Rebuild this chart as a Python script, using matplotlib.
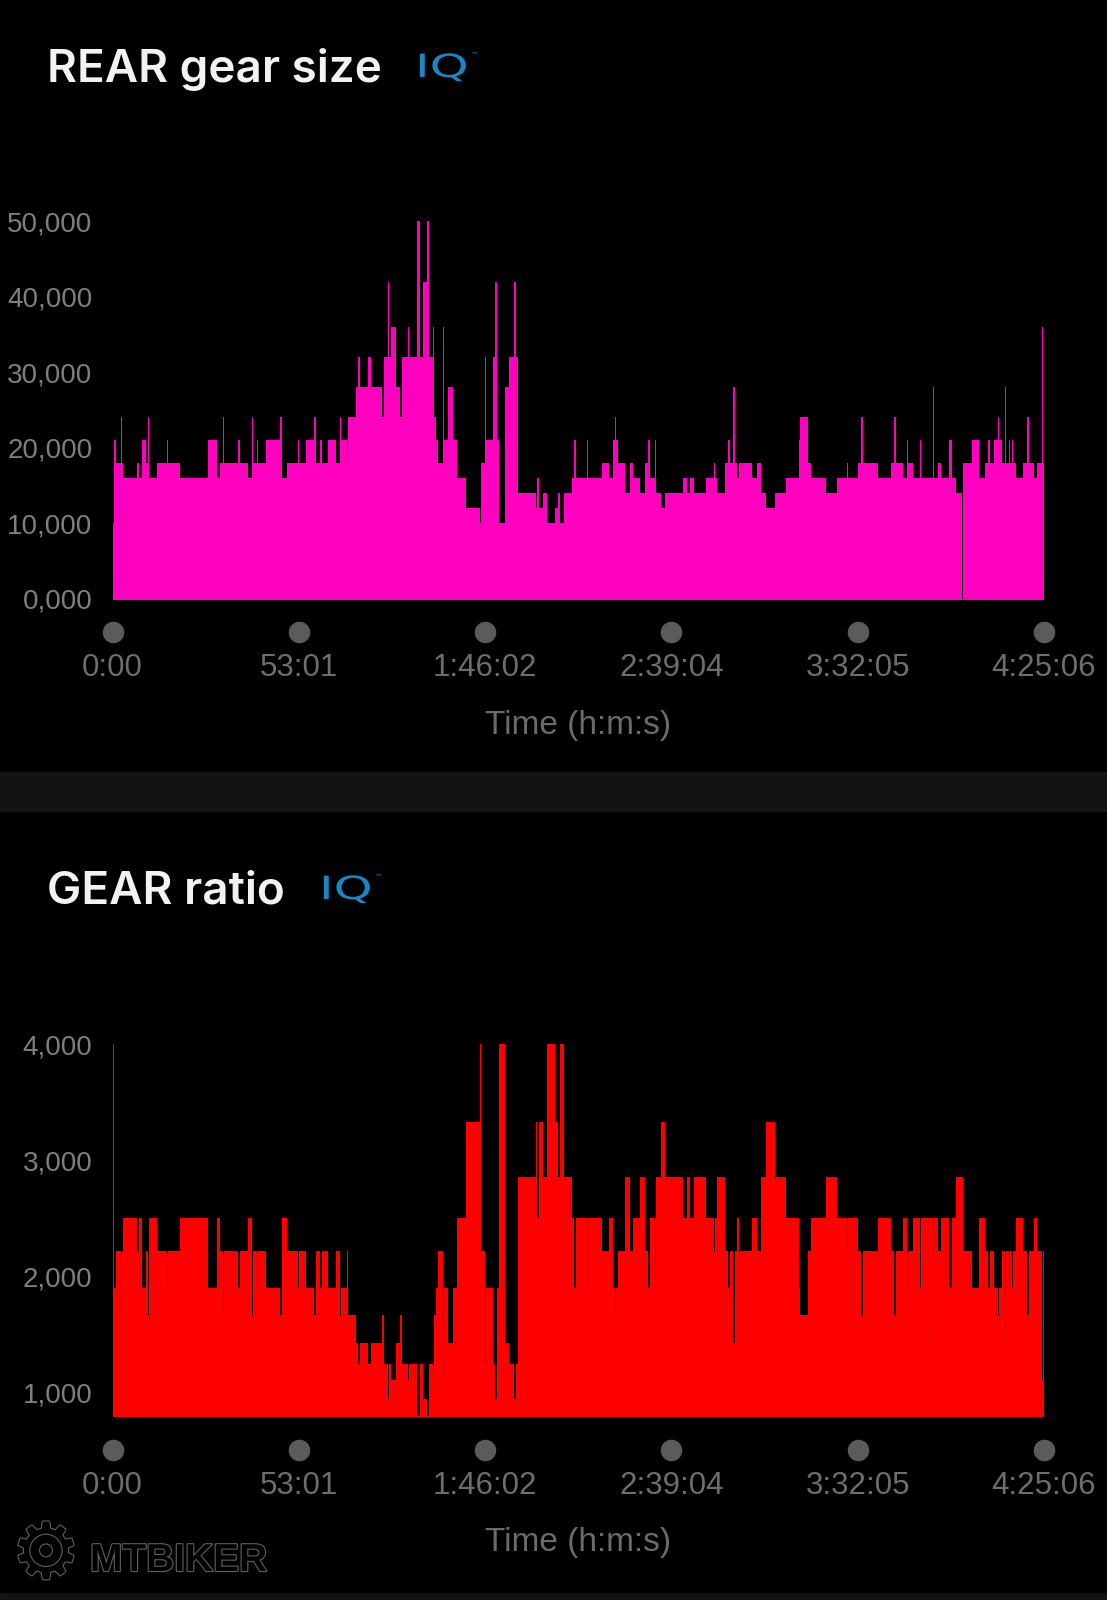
import matplotlib
matplotlib.use("Agg")
import matplotlib.pyplot as plt
import matplotlib.patheffects as pe
from matplotlib.patches import Rectangle, PathPatch
from matplotlib.textpath import TextPath
from matplotlib.font_manager import FontProperties
from matplotlib.transforms import blended_transform_factory, Affine2D, IdentityTransform

plt.rcParams['font.family'] = ['Liberation Sans', 'DejaVu Sans']

# gear changes, minutes from the start of the ride
change_min = [
    0.0, 0.4, 1.0, 2.4, 2.8, 3.0, 7.0, 7.4, 8.4, 9.4,
    10.1, 10.5, 12.7, 15.4, 15.8, 19.3, 27.2, 29.7, 30.7, 31.4,
    31.8, 35.8, 36.2, 38.6, 39.6, 40.0, 41.1, 41.5, 43.7, 47.7,
    48.1, 49.8, 52.8, 53.2, 55.1, 57.4, 57.8, 59.1, 59.5, 61.2,
    63.5, 64.7, 65.1, 66.6, 67.1, 69.4, 69.9, 70.3, 72.6, 73.6,
    76.7, 77.4, 78.4, 78.8, 79.3, 80.8, 81.8, 82.5, 84.1, 84.5,
    86.7, 87.4, 88.4, 89.6, 90.0, 91.1, 91.5, 92.0, 92.5, 94.0,
    94.4, 95.5, 97.0, 98.1, 100.6, 104.6, 105.0, 105.9, 106.3, 108.2,
    108.9, 109.3, 110.0, 111.8, 112.8, 114.3, 114.7, 115.4, 120.4, 120.9,
    121.3, 122.5, 123.7, 125.8, 126.8, 127.3, 128.4, 130.9, 131.4, 131.8,
    135.0, 135.4, 139.2, 141.2, 142.3, 143.0, 143.4, 143.8, 145.9, 147.4,
    148.2, 150.0, 151.5, 152.5, 152.9, 154.4, 154.8, 156.2, 157.2, 162.3,
    163.4, 164.4, 165.6, 169.0, 171.1, 171.6, 172.1, 174.2, 175.2, 175.6,
    176.7, 177.1, 177.8, 178.3, 181.9, 183.4, 184.7, 186.0, 188.6, 191.7,
    195.3, 195.8, 197.8, 198.7, 203.0, 206.1, 209.0, 209.4, 212.3, 213.1,
    213.5, 217.9, 221.5, 222.5, 222.9, 225.1, 226.1, 226.5, 227.7, 229.8,
    230.2, 233.4, 233.8, 234.9, 235.9, 238.0, 239.0, 240.0, 241.8, 242.0,
    244.7, 246.7, 248.3, 249.3, 249.7, 250.9, 251.9, 252.3, 253.2, 253.9,
    254.3, 255.0, 255.4, 256.0, 256.4, 257.0, 259.1, 260.4, 260.8, 262.2,
    263.2, 264.4, 264.7, 265.0,
]
rear_teeth = [
    10, 21, 18, 24, 18, 16, 18, 16, 21, 18,
    24, 16, 18, 21, 18, 16, 21, 16, 18, 24,
    18, 21, 18, 16, 24, 18, 21, 18, 21, 24,
    16, 18, 21, 18, 21, 24, 18, 21, 18, 21,
    18, 24, 21, 18, 24, 28, 32, 28, 32, 28,
    24, 32, 42, 32, 36, 28, 24, 32, 36, 32,
    50, 32, 42, 50, 32, 36, 24, 21, 18, 36,
    21, 28, 21, 16, 12, 10, 18, 32, 21, 32,
    42, 21, 10, 28, 32, 42, 32, 14, 12, 16,
    12, 14, 10, 12, 14, 10, 14, 16, 21, 16,
    21, 16, 18, 16, 21, 24, 21, 18, 14, 18,
    16, 14, 18, 21, 16, 21, 14, 12, 14, 16,
    14, 16, 14, 16, 18, 16, 14, 18, 21, 18,
    28, 18, 16, 18, 16, 18, 14, 12, 14, 16,
    21, 24, 18, 16, 14, 16, 18, 16, 18, 24,
    18, 16, 18, 24, 18, 16, 21, 18, 16, 21,
    16, 28, 16, 18, 16, 21, 16, 14, 0, 18,
    21, 16, 18, 21, 18, 21, 24, 21, 18, 28,
    18, 21, 18, 21, 18, 16, 18, 24, 18, 16,
    18, 36, 18, 10,
]
gear_ratio = [
    4.0, 1.9, 2.22, 1.67, 2.22, 2.5, 2.22, 2.5, 1.9, 2.22,
    1.67, 2.5, 2.22, 1.9, 2.22, 2.5, 1.9, 2.5, 2.22, 1.67,
    2.22, 1.9, 2.22, 2.5, 1.67, 2.22, 1.9, 2.22, 1.9, 1.67,
    2.5, 2.22, 1.9, 2.22, 1.9, 1.67, 2.22, 1.9, 2.22, 1.9,
    2.22, 1.67, 1.9, 2.22, 1.67, 1.43, 1.25, 1.43, 1.25, 1.43,
    1.67, 1.25, 0.95, 1.25, 1.11, 1.43, 1.67, 1.25, 1.11, 1.25,
    0.8, 1.25, 0.95, 0.8, 1.25, 1.11, 1.67, 1.9, 2.22, 1.11,
    1.9, 1.43, 1.9, 2.5, 3.33, 4.0, 2.22, 1.25, 1.9, 1.25,
    0.95, 1.9, 4.0, 1.43, 1.25, 0.95, 1.25, 2.86, 3.33, 2.5,
    3.33, 2.86, 4.0, 3.33, 2.86, 4.0, 2.86, 2.5, 1.9, 2.5,
    1.9, 2.5, 2.22, 2.5, 1.9, 1.67, 1.9, 2.22, 2.86, 2.22,
    2.5, 2.86, 2.22, 1.9, 2.5, 1.9, 2.86, 3.33, 2.86, 2.5,
    2.86, 2.5, 2.86, 2.5, 2.22, 2.5, 2.86, 2.22, 1.9, 2.22,
    1.43, 2.22, 2.5, 2.22, 2.5, 2.22, 2.86, 3.33, 2.86, 2.5,
    1.9, 1.67, 2.22, 2.5, 2.86, 2.5, 2.22, 2.5, 2.22, 1.67,
    2.22, 2.5, 2.22, 1.67, 2.22, 2.5, 1.9, 2.22, 2.5, 1.9,
    2.5, 1.43, 2.5, 2.22, 2.5, 1.9, 2.5, 2.86, 2.86, 2.22,
    1.9, 2.5, 2.22, 1.9, 2.22, 1.9, 1.67, 1.9, 2.22, 1.43,
    2.22, 1.9, 2.22, 1.9, 2.22, 2.5, 2.22, 1.67, 2.22, 2.5,
    2.22, 1.11, 2.22, 4.0,
]
ride_end_min = 265.1

time_labels = ["0:00", "53:01", "1:46:02", "2:39:04", "3:32:05", "4:25:06"]
rear_ticks = [0, 10, 20, 30, 40, 50]
ratio_ticks = [1, 2, 3, 4]


def to_sec(label):
    s = 0
    for p in label.split(":"):
        s = s * 60 + int(p)
    return s


W, H = 1107, 1600
fig = plt.figure(figsize=(W / 100, H / 100), dpi=100, facecolor="black")


def px_axes(left, top, right, bottom):
    return fig.add_axes([left / W, 1 - bottom / H, (right - left) / W, (bottom - top) / H])


def comma(v):
    return f"{v:.3f}".replace(".", ",")


tick_sec = [to_sec(l) for l in time_labels]
x = [t * 60 for t in change_min] + [ride_end_min * 60]


def draw_panel(ax, values, ymin, ymax, yticks, color, top_px, bot_px):
    ax.set_facecolor("black")
    y = values + [values[-1]]
    ax.fill_between(x, y, ymin - 10, step="post", color=color, linewidth=0)
    ax.set_xlim(0, tick_sec[-1])
    ax.set_ylim(ymin, ymax)
    for s in ax.spines.values():
        s.set_visible(False)
    ax.set_xticks([])
    ax.set_yticks(yticks)
    ax.set_yticklabels([comma(v) for v in yticks], fontsize=20, color="#7f7f7f")
    ax.tick_params(axis="y", length=0, pad=14.5)
    h = bot_px - top_px
    tr = blended_transform_factory(ax.transData, ax.transAxes)
    ax.plot(tick_sec, [-(33.5 / h)] * len(tick_sec), "o", ms=14.5, color="#5b5b5b",
            transform=tr, clip_on=False)
    for s, lbl in zip(tick_sec, time_labels):
        ax.text(s, -(70.0 / h), lbl, transform=tr, ha="center", va="center",
                fontsize=22.5, color="#6e6e6e")
    ax.text(0.5, -(127.0 / h), "Time (h:m:s)", transform=ax.transAxes,
            ha="center", va="center", fontsize=24, color="#6b6b6b")


ax1 = px_axes(112.5, 221.4, 1044, 598.5)
draw_panel(ax1, rear_teeth, 0, 50, rear_ticks, "#ff00bf", 221.4, 598.5)

ax2 = px_axes(112.5, 1044, 1044, 1416)
draw_panel(ax2, gear_ratio, 0.8, 4.0, ratio_ticks, "#ff0000", 1044, 1416)

# titles with the IQ badge
iq_font = FontProperties(family="DejaVu Sans")
iq_path = TextPath((0, 0), "IQ", size=32, prop=iq_font)
for title, base, iq_x in [("REAR gear size", 82, 415), ("GEAR ratio", 904, 319)]:
    fig.text(47 / W, 1 - base / H, title, fontsize=33, fontweight="semibold",
             family=["Inter", "DejaVu Sans"], color="#f2f2f2", va="baseline")
    iq_base = base - 5
    badge = Affine2D().scale(1.55, 1.0).translate(iq_x, H - iq_base).transform_path(iq_path)
    fig.add_artist(PathPatch(badge, transform=IdentityTransform(), facecolor="#1b87c2",
                             edgecolor="none"))
    fig.text((iq_x + 56) / W, 1 - (iq_base - 21) / H, "\u2122", fontsize=5,
             family=["DejaVu Sans"], color="#1b87c2", va="baseline")

# separator band and bottom strip
fig.patches.append(Rectangle((0, 1 - 811 / H), 1, 39 / H, transform=fig.transFigure,
                             color="#131313", zorder=0))
fig.patches.append(Rectangle((0, 0), 1, 7 / H, transform=fig.transFigure,
                             color="#131313", zorder=0))

# watermark
stroke = [pe.withStroke(linewidth=1.6, foreground="#606060")]
fig.text(46 / W, 1 - 1556 / H, "\u2699", fontsize=56, family=["DejaVu Sans"],
         ha="center", va="center", color="black", path_effects=stroke)
fig.text(90 / W, 1 - 1571 / H, "MTBIKER", fontsize=28, fontweight="bold",
         color="black", va="baseline", path_effects=stroke)

fig.savefig("out.png", dpi=100, facecolor="black")
